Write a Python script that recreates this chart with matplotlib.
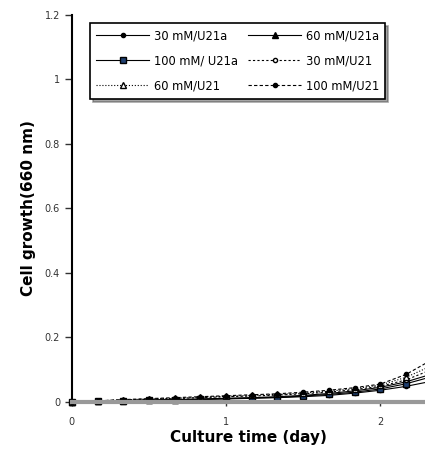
import matplotlib.pyplot as plt

# sampling times (hours) and OD660 readings
hours = [0, 4, 8, 12, 16, 20, 24, 28, 32, 36, 40, 44, 48, 52, 56]
od_30_u21a = [0.0, 0.002, 0.004, 0.005, 0.006, 0.007, 0.009, 0.011, 0.013, 0.016, 0.020, 0.027, 0.036, 0.048, 0.064]
od_60_u21a = [0.0, 0.002, 0.004, 0.006, 0.007, 0.009, 0.011, 0.013, 0.016, 0.020, 0.026, 0.034, 0.045, 0.062, 0.086]
od_100_u21a = [0.0, 0.002, 0.003, 0.005, 0.006, 0.008, 0.010, 0.012, 0.014, 0.018, 0.023, 0.030, 0.040, 0.056, 0.078]
od_30_u21 = [0.0, 0.003, 0.006, 0.008, 0.010, 0.013, 0.016, 0.018, 0.021, 0.025, 0.030, 0.038, 0.048, 0.068, 0.100]
od_60_u21 = [0.0, 0.003, 0.006, 0.009, 0.011, 0.014, 0.017, 0.020, 0.023, 0.027, 0.033, 0.041, 0.052, 0.076, 0.112]
od_100_u21 = [0.0, 0.003, 0.007, 0.010, 0.013, 0.016, 0.019, 0.022, 0.025, 0.030, 0.036, 0.044, 0.055, 0.085, 0.130]

labels = ["30 mM/U21a", "60 mM/U21a", "100 mM/ U21a", "30 mM/U21", "60 mM/U21", "100 mM/U21"]
y_ticks = [0, 0.2, 0.4, 0.6, 0.8, 1, 1.2]
y_tick_labels = ["0", "0.2", "0.4", "0.6", "0.8", "1", "1.2"]
x_ticks = [0, 1, 2]

days = [h / 24 for h in hours]

fig = plt.figure(figsize=(4.25, 4.5), dpi=100)
ax = fig.add_axes([0.169, 0.107, 0.831, 0.86])

styles = [
    dict(ls="-", marker="o", ms=3, mfc="black", mec="black"),
    dict(ls="-", marker="^", ms=4, mfc="black", mec="black"),
    dict(ls="-", marker="s", ms=4, mfc="#1f3f70", mec="black"),
    dict(ls=(0, (2, 2)), marker="o", ms=3, mfc="white", mec="black"),
    dict(ls=":", marker="^", ms=4, mfc="white", mec="black"),
    dict(ls=(0, (3, 2)), marker="o", ms=3, mfc="black", mec="black"),
]
series = [od_30_u21a, od_60_u21a, od_100_u21a, od_30_u21, od_60_u21, od_100_u21]

handles = []
for vals, st, lab in zip(series, styles, labels):
    ln, = ax.plot(days, vals, color="black", lw=0.8, label=lab, clip_on=False, **st)
    handles.append(ln)

ax.set_xlim(0, 2.29)
ax.set_ylim(0, 1.2)
ax.set_yticks(y_ticks)
ax.set_yticklabels(y_tick_labels)
ax.set_xticks(x_ticks)
ax.tick_params(axis="y", direction="out", length=5, width=1, labelsize=7, colors="#333333")
ax.tick_params(axis="x", direction="out", length=3, width=1, labelsize=7, colors="#333333", pad=8)

for s in ["top", "right"]:
    ax.spines[s].set_visible(False)
ax.spines["left"].set_linewidth(1.5)
ax.spines["bottom"].set_color("#999999")
ax.spines["bottom"].set_linewidth(3)

ax.set_ylabel("Cell growth(660 nm)", fontsize=11, fontweight="bold", labelpad=6)
ax.set_xlabel("Culture time (day)", fontsize=11, fontweight="bold", labelpad=2)

# legend fills by column, so reorder for the row-wise look
order = [0, 2, 4, 1, 3, 5]
leg = fig.legend([handles[i] for i in order], [labels[i] for i in order],
                 ncol=2, loc="upper left", bbox_to_anchor=(0.198, 0.962),
                 fontsize=8.3, frameon=True, fancybox=False, shadow=True,
                 handlelength=4.6, handletextpad=0.4, columnspacing=0.9,
                 borderpad=0.55, labelspacing=1.05)
leg.get_frame().set_edgecolor("black")
leg.get_frame().set_linewidth(1.2)

fig.savefig("out.png", dpi=100)
